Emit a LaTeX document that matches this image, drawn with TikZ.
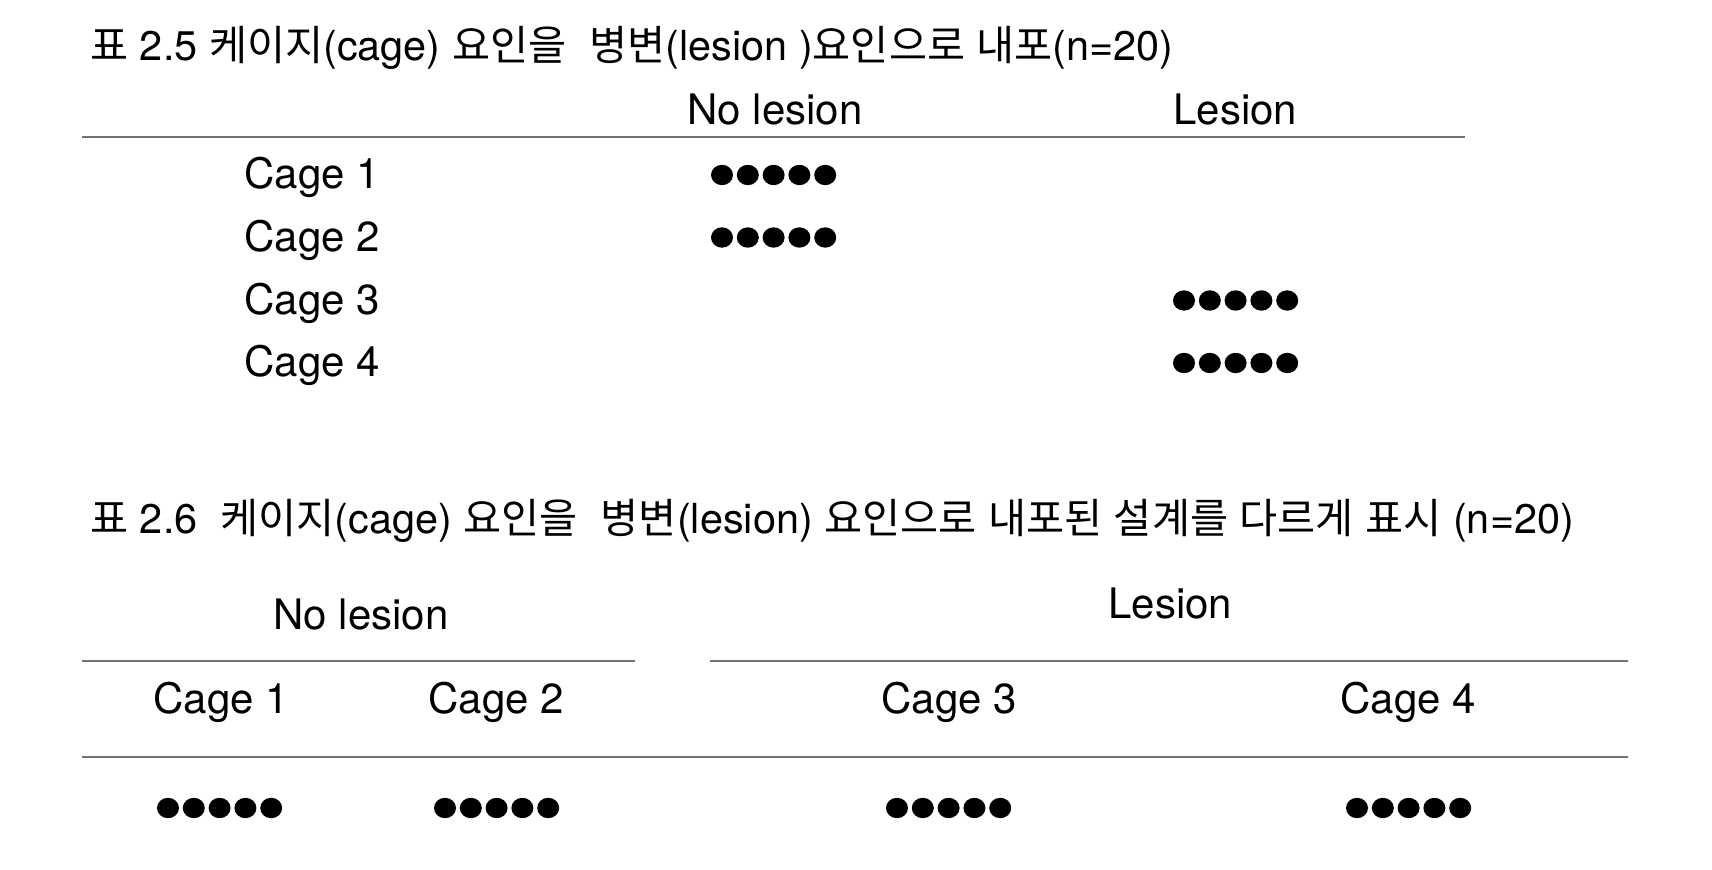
\documentclass[tikz,border=0pt]{standalone}
\usepackage{fontspec}
\setmainfont{TeX Gyre Heros}
\newfontfamily\kr{Noto Sans CJK KR}
\newcommand\dotrow[2]{\foreach \i in {0,...,4}{\fill ({#1+11+\i*25.8},#2) ellipse [x radius=5.5pt, y radius=5.1pt];}}
\begin{document}
\begin{tikzpicture}[x=0.5pt,y=-0.5pt,
  lbl/.style={anchor=base west,inner sep=0pt,font=\fontsize{21}{25}\selectfont},
  ttl/.style={anchor=base west,inner sep=0pt,font=\fontsize{20.7}{24}\selectfont},
  rule/.style={draw=black!55,line width=1pt}]
\useasboundingbox[fill=white] (0,0) rectangle (1712,870);
% ---- table 2.5
\node[ttl] (t1) at (90,61) {{\kr 표} 2.5 {\kr 케이지}(cage) {\kr 요인을}\ \ {\kr 병변}(lesion ){\kr 요인으로} {\kr 내포}(n=20)};
\node[lbl] (h1a) at (687,125) {No lesion};
\node[lbl] (h1b) at (1173,125) {Lesion};
\coordinate (r1a) at (82,137); \coordinate (r1b) at (1465,137);
\draw[rule] (r1a) -- (r1b);
\node[lbl] (c1) at (244,189) {Cage 1};
\node[lbl] (c2) at (244,252) {Cage 2};
\node[lbl] (c3) at (244,314.5) {Cage 3};
\node[lbl] (c4) at (244,377) {Cage 4};
\dotrow{711}{175}
\dotrow{711}{237.5}
\dotrow{1173}{300.5}
\dotrow{1173}{363}
% ---- table 2.6
\node[ttl] (t2) at (90,534) {{\kr 표} 2.6\ \ {\kr 케이지}(cage) {\kr 요인을}\ \ {\kr 병변}(lesion) {\kr 요인으로} {\kr 내포된} {\kr 설계를} {\kr 다르게} {\kr 표시} (n=20)};
\node[lbl] (h2a) at (273,630) {No lesion};
\node[lbl] (h2b) at (1108,618) {Lesion};
\coordinate (r2a) at (82,661); \coordinate (r2b) at (635,661);
\coordinate (r2c) at (710,661); \coordinate (r2d) at (1628,661);
\draw[rule] (r2a) -- (r2b);
\draw[rule] (r2c) -- (r2d);
\node[lbl] (d1) at (153,713) {Cage 1};
\node[lbl] (d2) at (428,713) {Cage 2};
\node[lbl] (d3) at (881,713) {Cage 3};
\node[lbl] (d4) at (1340,713) {Cage 4};
\coordinate (r3a) at (82,757); \coordinate (r3b) at (1628,757);
\draw[rule] (r3a) -- (r3b);
\dotrow{157}{808}
\dotrow{434}{808}
\dotrow{886}{808}
\dotrow{1346}{808}
\end{tikzpicture}
\end{document}
